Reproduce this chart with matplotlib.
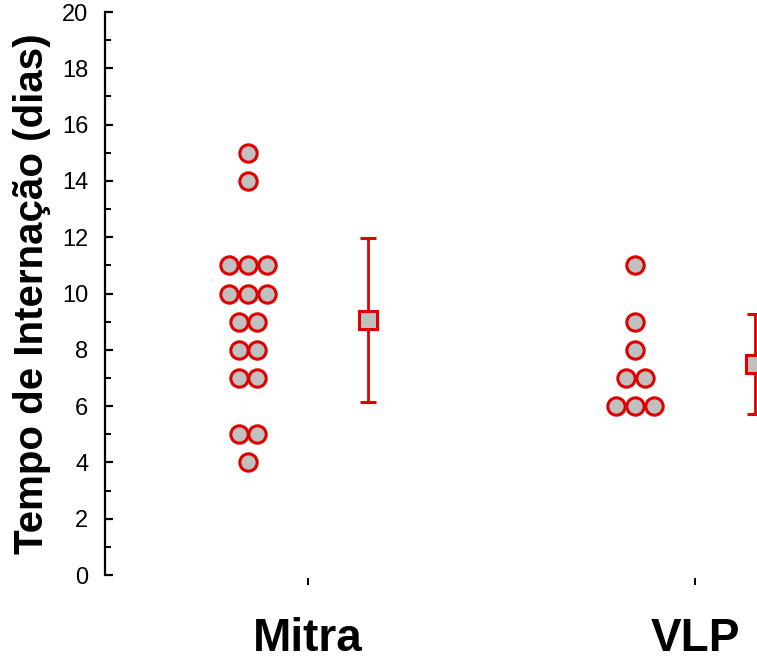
import matplotlib
matplotlib.use("Agg")
import matplotlib.pyplot as plt
from matplotlib.ticker import MultipleLocator
import numpy as np

groups = ["Mitra", "VLP"]
mitra_days = [15, 14, 11, 11, 11, 10, 10, 10, 9, 9, 8, 8, 7, 7, 5, 5, 4]
vlp_days = [11, 9, 8, 7, 7, 6, 6, 6]
means = [9.06, 7.5]
sds = [2.9, 1.77]

red = "#e00000"
grey = "#c0c0c0"
plt.rcParams["font.family"] = ["Liberation Sans", "DejaVu Sans"]

fig = plt.figure(figsize=(7.57, 6.61), dpi=100)
ax = fig.add_axes([0.1387, 0.1301, 0.8613, 0.8517])


def dot_positions(vals, center, step=0.049):
    xs, ys = [], []
    for v in sorted(set(vals), reverse=True):
        n = vals.count(v)
        offs = (np.arange(n) - (n - 1) / 2) * step
        xs.extend(center + offs)
        ys.extend([v] * n)
    return xs, ys


for i, vals in enumerate([mitra_days, vlp_days]):
    xs, ys = dot_positions(vals, i + 1 - 0.155)
    ax.plot(xs, ys, "o", ms=12.5, mfc=grey, mec=red, mew=2.2, ls="none",
            clip_on=False, zorder=3)
    ax.errorbar(i + 1 + 0.155, means[i], yerr=sds[i], fmt="s", ms=12.5,
                mfc=grey, mec=red, mew=2.2, ecolor=red, elinewidth=2,
                capsize=6, capthick=2, clip_on=False, zorder=3)

ax.set_xlim(0.4755, 2.16)
ax.set_ylim(0, 20)
ax.yaxis.set_major_locator(MultipleLocator(2))
ax.yaxis.set_minor_locator(MultipleLocator(1))

for s in ["top", "right"]:
    ax.spines[s].set_visible(False)
ax.spines["bottom"].set_position(("outward", 2))
ax.spines["bottom"].set_visible(False)
ax.spines["left"].set_linewidth(1.6)

ax.tick_params(axis="y", which="major", direction="in", length=6, width=1.6,
               labelsize=17, pad=12)
ax.tick_params(axis="y", which="minor", direction="in", length=4, width=1.4)
ax.tick_params(axis="x", direction="out", length=5, width=1.4, pad=23)

ax.set_xticks([1, 2])
ax.set_xticklabels(groups)
for lab in ax.get_xticklabels():
    lab.set_fontsize(33)
    lab.set_fontweight("bold")

ax.set_ylabel("Tempo de Internação (dias)", fontsize=29, fontweight="bold",
              labelpad=8)

fig.savefig("out.png", dpi=100)
